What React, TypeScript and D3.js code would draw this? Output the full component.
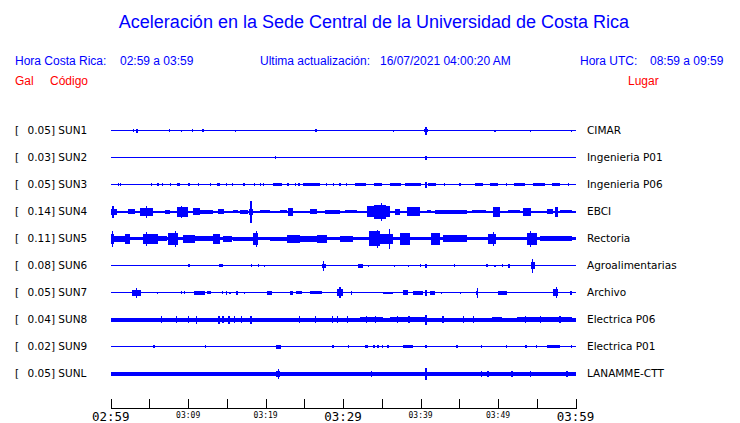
import React from "react";
import * as d3 from "d3";

const W = 740;
const H = 423;

const title = "Aceleración en la Sede Central de la Universidad de Costa Rica";
const stationCodes = ["SUN1", "SUN2", "SUN3", "SUN4", "SUN5", "SUN6", "SUN7", "SUN8", "SUN9", "SUNL"];
const stationPlaces = ["CIMAR", "Ingenieria P01", "Ingenieria P06", "EBCI", "Rectoria", "Agroalimentarias", "Archivo", "Electrica P06", "Electrica P01", "LANAMME-CTT"];
const peakGal = ["0.05", "0.03", "0.05", "0.14", "0.11", "0.08", "0.05", "0.04", "0.02", "0.05"];
// background noise level (half amplitude) for each trace
const baseNoise = [0.5, 0.5, 0.6, 1, 1.5, 0.5, 0.5, 2, 0.5, 2];

const tickMinutes = [0, 5, 10, 15, 20, 25, 30, 35, 40, 45, 50, 55, 60];
const labelMinutes = [0, 10, 20, 30, 40, 50, 60];
const labelTexts = ["02:59", "03:09", "03:19", "03:29", "03:39", "03:49", "03:59"];
const bigLabels = ["02:59", "03:29", "03:59"];

// events: [start minute, end minute, half amplitude]; start == end is a single spike
const sun1: number[][] = [[2.9, 2.9, 1.3], [3.4, 3.4, 2], [7.5, 7.7, 1.5], [9.1, 9.1, 1], [10.6, 10.6, 1.5], [11.8, 12.0, 1.5], [16.1, 16.1, 1], [26.5, 26.5, 1.5], [36.5, 36.5, 1], [40.5, 40.9, 1.5], [40.7, 40.7, 4], [49.6, 49.6, 1], [54.2, 54.2, 1], [59.5, 59.5, 1]];
const sun2: number[][] = [[21.3, 21.3, 1.5], [40.7, 40.7, 2]];
const sun3: number[][] = [[1.0, 1.0, 1.8], [1.3, 1.3, 1.5], [4.0, 4.1, 1.8], [5.3, 5.3, 1.5], [6.1, 6.1, 1.5], [6.6, 6.7, 1.8], [7.7, 7.8, 1.8], [8.5, 8.9, 1.8], [10.1, 10.1, 1.5], [11.3, 11.3, 1.5], [12.8, 12.9, 1.8], [13.7, 14.1, 1.8], [14.9, 14.9, 1.5], [15.7, 15.7, 1.5], [17.2, 17.2, 1.5], [18.2, 18.3, 1.8], [18.6, 18.6, 1.5], [19.3, 19.3, 1.5], [19.7, 19.8, 1.8], [20.9, 22.1, 1.8], [22.9, 22.9, 1.5], [23.8, 23.9, 1.8], [24.3, 24.3, 1.5], [24.8, 27.0, 1.8], [27.9, 27.9, 1.5], [28.7, 28.8, 1.8], [29.6, 29.6, 1.5], [30.4, 30.4, 1.5], [30.7, 30.8, 1.8], [31.5, 33.0, 1.8], [34.0, 35.0, 1.8], [36.0, 37.5, 1.8], [38.0, 40.0, 1.8], [40.7, 40.7, 3], [41.0, 42.0, 1.8], [43.0, 43.2, 1.8], [45.0, 45.2, 1.8], [47.0, 48.0, 1.8], [49.0, 50.0, 1.8], [51.0, 51.2, 1.8], [52.0, 53.5, 1.8], [54.5, 56.0, 1.8], [57.0, 58.0, 1.8], [59.0, 59.2, 1.8]];
const sun4: number[][] = [[0, 0.8, 3], [0.3, 0.3, 6], [2.2, 3.1, 2.5], [3.8, 5.5, 4], [4.6, 4.6, 6], [7.0, 7.7, 2], [8.5, 10.0, 5], [9.1, 9.1, 6], [10.6, 11.5, 3.5], [11.5, 13.2, 2], [13.8, 14.6, 2.5], [15.8, 16.4, 1.2], [16.7, 17.7, 2], [17.8, 18.4, 3], [18.1, 18.1, 11], [19.3, 20.6, 1.2], [21.8, 22.8, 1.2], [22.9, 23.5, 4], [25.7, 26.6, 2.5], [27.7, 29.6, 2], [30.2, 31.8, 1.5], [33.1, 36.0, 5.5], [34.0, 35.5, 7], [35.0, 35.0, 9], [36.7, 37.3, 3], [38.2, 39.9, 4.5], [40.8, 41.4, 1.2], [41.8, 46.0, 2], [46.7, 48.5, 1.2], [49.3, 50.2, 5], [51.3, 52.8, 1.5], [53.2, 54.3, 4], [56.3, 57.1, 2.5], [57.3, 57.7, 5], [58.0, 59.6, 1.2]];
const sun5: number[][] = [[0, 0.4, 5], [0.2, 0.2, 8], [0.3, 1.8, 3], [1.8, 2.5, 5], [4.2, 6.1, 5], [4.6, 4.6, 7], [6.1, 7.3, 2.5], [7.4, 8.7, 6], [8.4, 8.4, 8], [9.3, 10.9, 4], [10.9, 13.2, 2.5], [13.2, 14.1, 5], [14.5, 15.7, 3], [15.8, 18.4, 2], [18.4, 19.0, 6], [18.8, 18.8, 8], [20.6, 22.8, 2], [22.8, 24.4, 4], [24.4, 26.6, 3], [26.6, 27.9, 4], [29.6, 31.3, 3], [33.4, 34.7, 7.5], [34.4, 34.4, 9], [34.7, 36.4, 5], [36.0, 36.0, 10], [37.3, 38.6, 6], [41.4, 42.5, 6], [42.9, 46.0, 3.5], [48.7, 49.8, 5], [49.4, 49.4, 7], [53.7, 55.0, 6], [54.2, 54.2, 8], [55.4, 59.6, 2.5]];
const sun6: number[][] = [[10.0, 10.2, 1.5], [14.0, 14.5, 1.5], [18.2, 18.2, 1.2], [19.1, 19.1, 1.2], [19.9, 19.9, 1], [27.3, 27.8, 2], [27.5, 27.5, 5], [31.9, 32.6, 2], [33.3, 33.3, 1], [36.6, 36.6, 1], [38.4, 38.4, 1], [40.0, 40.0, 1.2], [40.7, 40.7, 2], [44.3, 44.5, 1.5], [48.5, 48.7, 1.5], [49.6, 49.6, 1], [50.6, 50.6, 1.2], [51.3, 51.5, 2], [54.2, 54.8, 3.5], [54.5, 54.5, 7]];
const sun7: number[][] = [[2.7, 3.9, 3], [3.3, 3.3, 5], [6.0, 6.0, 1], [9.1, 9.1, 1.5], [9.5, 9.5, 1.5], [10.7, 12.2, 2], [12.4, 12.9, 1.5], [14.4, 14.4, 1.5], [14.9, 14.9, 2], [15.4, 15.4, 1], [16.3, 16.3, 2], [17.3, 17.3, 1], [20.2, 20.8, 2], [23.1, 23.5, 2], [23.9, 24.7, 1.5], [25.7, 27.3, 1.8], [29.2, 30.0, 3.5], [29.6, 29.6, 5.5], [31.1, 31.1, 2], [35.1, 36.4, 1], [37.7, 38.4, 2.5], [39.0, 40.3, 2], [40.7, 40.7, 3], [41.2, 41.8, 2], [42.7, 42.7, 1], [45.2, 45.2, 1], [47.2, 47.4, 2], [47.3, 47.3, 5], [50.0, 51.1, 2], [57.1, 57.7, 3.5], [57.5, 57.5, 5.5], [59.3, 59.6, 2]];
const sun8: number[][] = [[6.6, 6.6, 3.5], [8.5, 8.5, 3.5], [10.0, 10.0, 3.5], [11.1, 11.1, 4], [13.8, 14.1, 4], [14.5, 14.5, 3.5], [15.1, 15.4, 4], [16.0, 16.0, 3.5], [16.9, 16.9, 3.5], [18.1, 18.1, 4], [24.4, 24.4, 3.5], [26.4, 26.4, 3.5], [28.6, 28.6, 3.5], [29.3, 29.3, 3.5], [30.6, 30.6, 3.5], [32.2, 35.1, 2.8], [33.0, 33.0, 3.5], [34.2, 34.2, 3.5], [36.0, 40.8, 2.8], [37.0, 37.0, 3.5], [38.5, 38.5, 3.5], [40.7, 40.7, 5], [42.9, 42.9, 3.5], [45.5, 45.5, 3.5], [46.8, 46.8, 3.5], [49.2, 50.5, 2.8], [52.4, 59.6, 2.8], [53.5, 53.5, 3.5], [55.5, 55.5, 3.5], [58.0, 58.0, 3.5]];
const sun9: number[][] = [[5.6, 5.6, 1.5], [12.2, 12.2, 1.5], [21.3, 22.0, 2], [28.7, 28.7, 1.5], [30.7, 30.7, 1.5], [32.8, 33.2, 1.5], [34.0, 34.0, 1.2], [34.5, 34.5, 1.2], [35.1, 35.1, 1.2], [35.8, 35.8, 1.2], [37.7, 39.0, 1.8], [40.7, 40.7, 1.5], [44.7, 44.7, 1.2], [47.9, 47.9, 1.2], [51.1, 51.1, 1.2], [53.6, 53.6, 1.2], [55.0, 55.0, 1.2], [56.3, 58.0, 1.5], [59.5, 59.5, 1.5]];
const sunL: number[][] = [[21.3, 21.8, 3], [21.7, 21.7, 5], [33.7, 33.7, 3], [40.7, 40.7, 6], [47.9, 47.9, 3], [48.7, 48.7, 3], [51.8, 51.8, 3], [54.2, 54.2, 3], [58.9, 58.9, 3]];
const stationEvents = [sun1, sun2, sun3, sun4, sun5, sun6, sun7, sun8, sun9, sunL];

const BLUE = "#0000ff";
const RED = "#ff0000";
const SANS = "'Liberation Sans', Arial, sans-serif";
const DEJAVU = "'DejaVu Sans', sans-serif";
const MONO = "'DejaVu Sans Mono', monospace";

export default function App() {
  const x = d3.scaleLinear().domain([0, 60]).range([110.7, 575.5]);
  const row = d3.scalePoint<string>().domain(stationCodes).range([130.5, 373.5]);
  const amp = d3.scaleLinear().domain([-13.5, 13.5]).range([13.5, -13.5]);

  return (
    <div style={{ position: "absolute", left: 0, top: 0, width: W, height: H, background: "#fff" }}>
      <svg width={W} height={H} style={{ display: "block" }}>
        <rect width={W} height={H} fill="#fff" />
        <text x={374} y={28} textAnchor="middle" fontFamily={SANS} fontSize={18} fill={BLUE}>{title}</text>

        <g fontFamily={SANS} fontSize={12} fill={BLUE}>
          <text x={15} y={65}>Hora Costa Rica:</text>
          <text x={120} y={65}>02:59 a 03:59</text>
          <text x={260} y={65}>Ultima actualización:</text>
          <text x={380} y={65}>16/07/2021 04:00:20 AM</text>
          <text x={580} y={65}>Hora UTC:</text>
          <text x={650} y={65}>08:59 a 09:59</text>
        </g>
        <g fontFamily={SANS} fontSize={12} fill={RED}>
          <text x={15} y={85}>Gal</text>
          <text x={50} y={85}>Código</text>
          <text x={628} y={85}>Lugar</text>
        </g>

        {stationCodes.map((code, i) => {
          const cy = row(code) as number;
          const y = (v: number) => cy + amp(v);
          const b = baseNoise[i];
          return (
            <g key={code}>
              <text x={15} y={cy + 3.5} fontFamily={DEJAVU} fontSize={10.5} fill="#000">[</text>
              <text x={27.5} y={cy + 3.5} fontFamily={DEJAVU} fontSize={10.5} fill="#000">{peakGal[i]}] {code}</text>
              <text x={587} y={cy + 3.5} fontFamily={DEJAVU} fontSize={10.5} fill="#000">{stationPlaces[i]}</text>
              <g fill={BLUE} shapeRendering="crispEdges">
                <rect x={x(0)} y={y(b)} width={x(60) - x(0)} height={y(-b) - y(b)} />
                {stationEvents[i].map((e, j) => {
                  const x0 = x(e[0]);
                  const w = e[1] > e[0] ? x(e[1]) - x0 : 1.2;
                  return <rect key={j} x={x0 - (e[1] > e[0] ? 0 : 0.6)} y={y(e[2])} width={w} height={y(-e[2]) - y(e[2])} />;
                })}
              </g>
            </g>
          );
        })}

        <g shapeRendering="crispEdges" stroke="#000" strokeWidth={1}>
          <line x1={x(0)} x2={x(60)} y1={408.5} y2={408.5} />
          {tickMinutes.map((m) => (
            <line key={m} x1={Math.round(x(m)) + 0.5} x2={Math.round(x(m)) + 0.5} y1={399} y2={408.5} />
          ))}
        </g>
        {labelMinutes.map((m, i) => {
          const big = bigLabels.includes(labelTexts[i]);
          return (
            <text key={m} x={x(m)} y={big ? 421 : 417.5} textAnchor="middle" fontFamily={MONO} fontSize={big ? 12.5 : 8} fill="#000">
              {labelTexts[i]}
            </text>
          );
        })}
      </svg>
    </div>
  );
}
